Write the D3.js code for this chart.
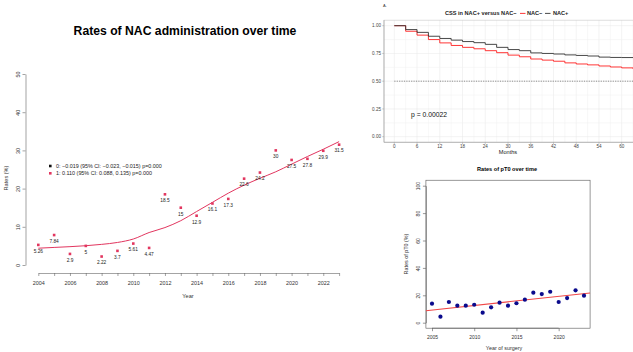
<!DOCTYPE html>
<html>
<head>
<meta charset="utf-8">
<script src="https://cdn.jsdelivr.net/npm/d3@7"></script>
<style>
  body { margin: 0; background: #fff; }
  svg { display: block; font-family: "Liberation Sans", Arial, sans-serif; }
</style>
</head>
<body>
<svg id="chart" width="633" height="352"></svg>
<script>
// left panel: NAC administration rates
const nacYears = [2004, 2005, 2006, 2007, 2008, 2009, 2010, 2011, 2012, 2013,
                  2014, 2015, 2016, 2017, 2018, 2019, 2020, 2021, 2022, 2023];
const nacRates = [5.26, 7.84, 2.9, 5, 2.22, 3.7, 5.61, 4.47, 18.5, 15,
                  12.9, 16.1, 17.3, 22.6, 24.2, 30, 27.5, 27.8, 29.9, 31.5];
const nacFit = [4.4, 4.6, 4.8, 5.05, 5.4, 5.9, 6.8, 8.5, 9.8, 11.6,
                14.0, 16.4, 18.8, 20.9, 22.7, 24.4, 26.4, 28.4, 30.3, 32.3];
const nacYTicks = [0, 10, 20, 30, 40, 50];
const nacLegend = ["0: \u22120.019 (95% CI: \u22120.023, \u22120.015) p=0.000",
                   "1: 0.110 (95% CI: 0.088, 0.135) p=0.000"];

// top right: survival curves
const kmMonths = [0, 3, 6, 9, 12, 15, 18, 21, 24, 27, 30, 33, 36, 39, 42, 45, 48, 51, 54, 57, 60, 63];
const kmNacPos = [1.00, 0.965, 0.94, 0.905, 0.885, 0.87, 0.857, 0.847, 0.832, 0.805, 0.785,
                  0.775, 0.755, 0.75, 0.745, 0.737, 0.732, 0.727, 0.717, 0.714, 0.713, 0.712];
const kmNacNeg = [1.00, 0.95, 0.915, 0.875, 0.845, 0.822, 0.805, 0.792, 0.775, 0.757, 0.735,
                  0.72, 0.70, 0.69, 0.68, 0.665, 0.655, 0.647, 0.637, 0.628, 0.62, 0.61];
const kmXTicks = [0, 6, 12, 18, 24, 30, 36, 42, 48, 54, 60];
const kmYTicks = [0, 0.25, 0.5, 0.75, 1];

// bottom right: pT0 rates
const pt0Years = [2005, 2006, 2007, 2008, 2009, 2010, 2011, 2012, 2013, 2014,
                  2015, 2016, 2017, 2018, 2019, 2020, 2021, 2022, 2023];
const pt0Rates = [13.9, 4.4, 15.1, 12.4, 12.4, 13.1, 7.3, 11.2, 14.6, 12.4,
                  14.2, 16.8, 21.9, 20.9, 22.6, 15.1, 18.0, 23.6, 19.7];
const pt0XTicks = [2005, 2010, 2015, 2020];
const pt0YTicks = [0, 20, 40, 60, 80, 100];

const svg = d3.select("#chart");
svg.append("rect").attr("width", 633).attr("height", 352).attr("fill", "#fff");

const pink = "#e2365f";

// ---------- left chart ----------
const x1 = d3.scaleLinear().domain([2004, 2023]).range([38.3, 339.1]);
const y1 = d3.scaleLinear().domain([0, 50]).range([265, 74]);

svg.append("text")
  .attr("x", 185).attr("y", 35)
  .attr("text-anchor", "middle")
  .style("font-size", "12.2px").style("font-weight", "bold")
  .text("Rates of NAC administration over time");

const ax1 = svg.append("g")
  .attr("transform", "translate(0,273)")
  .call(d3.axisBottom(x1).tickValues(nacYears).tickSize(3).tickSizeOuter(0)
    .tickFormat(d => d % 2 == 0 ? d : ""));
ax1.selectAll("text").attr("y", 8).style("font-size", "5.4px").attr("fill", "#333");

const ay1 = svg.append("g")
  .attr("transform", "translate(25.5,0)")
  .call(d3.axisLeft(y1).tickValues(nacYTicks).tickSize(3).tickSizeOuter(0));
ay1.selectAll("text")
  .attr("transform", "rotate(-90)")
  .attr("x", 0).attr("y", -6).attr("dy", 0)
  .style("text-anchor", "middle").style("font-size", "5.4px").attr("fill", "#333");

[ax1, ay1].forEach(g => {
  g.selectAll("path, line").attr("stroke", "#666").attr("stroke-width", 0.6);
});

svg.append("text").attr("x", 188).attr("y", 298)
  .attr("text-anchor", "middle").style("font-size", "5.6px").attr("fill", "#333").text("Year");
svg.append("text")
  .attr("transform", "translate(8,178) rotate(-90)")
  .attr("text-anchor", "middle").style("font-size", "5.6px").attr("fill", "#333").text("Rates (%)");

svg.append("path")
  .datum(nacYears.map((d, i) => [d, nacFit[i]]))
  .attr("fill", "none").attr("stroke", pink).attr("stroke-width", 1)
  .attr("d", d3.line().x(d => x1(d[0])).y(d => y1(d[1])).curve(d3.curveMonotoneX));

svg.selectAll(".nacpt")
  .data(nacYears).enter()
  .append("rect")
    .attr("x", (d) => x1(d) - 1.3)
    .attr("y", (d, i) => y1(nacRates[i]) - 1.3)
    .attr("width", 2.6).attr("height", 2.6)
    .attr("fill", pink);

svg.selectAll(".naclab")
  .data(nacYears).enter()
  .append("text")
    .attr("x", (d) => x1(d))
    .attr("y", (d, i) => y1(nacRates[i]) + 7.8)
    .attr("text-anchor", "middle")
    .style("font-size", "4.8px").attr("fill", "#222")
    .text((d, i) => nacRates[i]);

nacLegend.forEach((t, i) => {
  svg.append("rect").attr("x", 49).attr("y", 164.7 + i * 7.3).attr("width", 2.6).attr("height", 2.6)
    .attr("fill", i == 0 ? "#111" : pink);
  svg.append("text").attr("x", 56).attr("y", 168 + i * 7.3)
    .style("font-size", "5.4px").attr("fill", "#222").text(t);
});

// ---------- KM chart ----------
const x2 = d3.scaleLinear().domain([0, 60]).range([394.3, 621.7]);
const y2 = d3.scaleLinear().domain([0, 1]).range([136.7, 25.7]);
const pL = 384, pR = 645, pT = y2(1.05), pB = y2(-0.05);

svg.append("text").attr("x", 383).attr("y", 6.5).style("font-size", "4px").attr("fill", "#333").text("A.");

svg.append("defs").append("clipPath").attr("id", "kmclip")
  .append("rect").attr("x", pL).attr("y", pT).attr("width", pR - pL).attr("height", pB - pT);

const grid = svg.append("g");
d3.range(0, 64, 3).forEach(m => {
  grid.append("line").attr("x1", x2(m)).attr("x2", x2(m)).attr("y1", pT).attr("y2", pB)
    .attr("stroke", m % 6 == 0 ? "#e6e6e6" : "#f1f1f1").attr("stroke-width", 0.5);
});
d3.range(0, 1.01, 0.125).forEach(v => {
  grid.append("line").attr("x1", pL).attr("x2", pR).attr("y1", y2(v)).attr("y2", y2(v))
    .attr("stroke", (v * 4) % 1 == 0 ? "#e6e6e6" : "#f1f1f1").attr("stroke-width", 0.5);
});
svg.append("rect").attr("x", pL).attr("y", pT).attr("width", pR - pL).attr("height", pB - pT)
  .attr("fill", "none").attr("stroke", "#c8c8c8").attr("stroke-width", 0.6);
svg.append("line").attr("x1", pL).attr("x2", pL).attr("y1", pT).attr("y2", pB).attr("stroke", "#999").attr("stroke-width", 0.6);
svg.append("line").attr("x1", pL).attr("x2", pR).attr("y1", pB).attr("y2", pB).attr("stroke", "#999").attr("stroke-width", 0.6);

svg.append("line").attr("x1", x2(0)).attr("x2", pR).attr("y1", y2(0.5)).attr("y2", y2(0.5))
  .attr("stroke", "#444").attr("stroke-width", 0.6).attr("stroke-dasharray", "1.2,1.2");

const kmLine = d3.line().x(d => x2(d[0])).y(d => y2(d[1])).curve(d3.curveStepAfter);
const kmG = svg.append("g").attr("clip-path", "url(#kmclip)");
kmG.append("path").datum(kmMonths.map((m, i) => [m, kmNacNeg[i]]))
  .attr("fill", "none").attr("stroke", "#ff2020").attr("stroke-width", 0.9).attr("d", kmLine);
kmG.append("path").datum(kmMonths.map((m, i) => [m, kmNacPos[i]]))
  .attr("fill", "none").attr("stroke", "#333").attr("stroke-width", 0.9).attr("d", kmLine);

kmXTicks.forEach(m => {
  svg.append("line").attr("x1", x2(m)).attr("x2", x2(m)).attr("y1", pB).attr("y2", pB + 1.8).attr("stroke", "#999").attr("stroke-width", 0.5);
  svg.append("text").attr("x", x2(m)).attr("y", pB + 5.8).attr("text-anchor", "middle")
    .style("font-size", "4.6px").attr("fill", "#444").text(m);
});
kmYTicks.forEach(v => {
  svg.append("line").attr("x1", pL - 1.8).attr("x2", pL).attr("y1", y2(v)).attr("y2", y2(v)).attr("stroke", "#999").attr("stroke-width", 0.5);
  svg.append("text").attr("x", pL - 3).attr("y", y2(v) + 1.6).attr("text-anchor", "end")
    .style("font-size", "4.6px").attr("fill", "#444").text(v.toFixed(2));
});
svg.append("text").attr("x", 508).attr("y", 153.5).attr("text-anchor", "middle")
  .style("font-size", "5.6px").attr("fill", "#222").text("Months");
svg.append("text").attr("x", 411).attr("y", 117.4)
  .style("font-size", "6.8px").attr("fill", "#111").text("p = 0.00022");

svg.append("text").attr("x", 445).attr("y", 15.4)
  .style("font-size", "5.6px").style("font-weight", "bold").attr("fill", "#222").text("CSS in NAC+ versus NAC\u2212");
svg.append("line").attr("x1", 520).attr("x2", 525.5).attr("y1", 13.4).attr("y2", 13.4).attr("stroke", "#ff2020").attr("stroke-width", 0.9);
svg.append("text").attr("x", 527).attr("y", 15.4).style("font-size", "5.6px").style("font-weight", "bold").attr("fill", "#222").text("NAC\u2212");
svg.append("line").attr("x1", 545).attr("x2", 550.5).attr("y1", 13.4).attr("y2", 13.4).attr("stroke", "#333").attr("stroke-width", 0.9);
svg.append("text").attr("x", 553).attr("y", 15.4).style("font-size", "5.6px").style("font-weight", "bold").attr("fill", "#222").text("NAC+");

// ---------- pT0 chart ----------
const x3 = d3.scaleLinear().domain([2005, 2023]).range([432, 584]);
const y3 = d3.scaleLinear().domain([0, 100]).range([322.7, 185.7]);
const bL = x3(2004.28), bR = x3(2023.72), bT = y3(104), bB = y3(-4);

svg.append("text").attr("x", 507).attr("y", 171)
  .attr("text-anchor", "middle").style("font-size", "5.6px").style("font-weight", "bold")
  .text("Rates of pT0 over time");

svg.append("rect").attr("x", bL).attr("y", bT).attr("width", bR - bL).attr("height", bB - bT)
  .attr("fill", "none").attr("stroke", "#555").attr("stroke-width", 0.6);

const ax3 = svg.append("g").attr("transform", `translate(0,${bB})`)
  .call(d3.axisBottom(x3).tickValues(pt0XTicks).tickSize(3).tickSizeOuter(0).tickFormat(d3.format("d")));
ax3.select(".domain").attr("d", `M${x3(2005)},0H${x3(2020)}`);
ax3.selectAll("text").attr("y", 7.5).style("font-size", "5px").attr("fill", "#333");

const ay3 = svg.append("g").attr("transform", `translate(${bL},0)`)
  .call(d3.axisLeft(y3).tickValues(pt0YTicks).tickSize(3).tickSizeOuter(0));
ay3.selectAll("text")
  .attr("transform", "rotate(-90)")
  .attr("x", 0).attr("y", -6).attr("dy", 0)
  .style("text-anchor", "middle").style("font-size", "5px").attr("fill", "#333");
[ax3, ay3].forEach(g => g.selectAll("path, line").attr("stroke", "#555").attr("stroke-width", 0.6));

svg.append("text").attr("x", 504).attr("y", 350)
  .attr("text-anchor", "middle").style("font-size", "5.4px").attr("fill", "#333").text("Year of surgery");
svg.append("text").attr("transform", "translate(407.5,254) rotate(-90)")
  .attr("text-anchor", "middle").style("font-size", "5.4px").attr("fill", "#333").text("Rates of pT0 (%)");

// least squares line, like abline(lm(...))
const mx = d3.mean(pt0Years), my = d3.mean(pt0Rates);
const slope = d3.sum(pt0Years, (d, i) => (d - mx) * (pt0Rates[i] - my)) / d3.sum(pt0Years, d => (d - mx) * (d - mx));
const fitAt = (yr) => my + slope * (yr - mx);
svg.append("line")
  .attr("x1", bL).attr("x2", bR)
  .attr("y1", y3(fitAt(2004.28))).attr("y2", y3(fitAt(2023.72)))
  .attr("stroke", "#f04848").attr("stroke-width", 1.1);

svg.selectAll(".pt0")
  .data(pt0Years).enter()
  .append("circle")
    .attr("cx", d => x3(d))
    .attr("cy", (d, i) => y3(pt0Rates[i]))
    .attr("r", 2.1)
    .attr("fill", "#0a0a8c");
</script>
</body>
</html>
